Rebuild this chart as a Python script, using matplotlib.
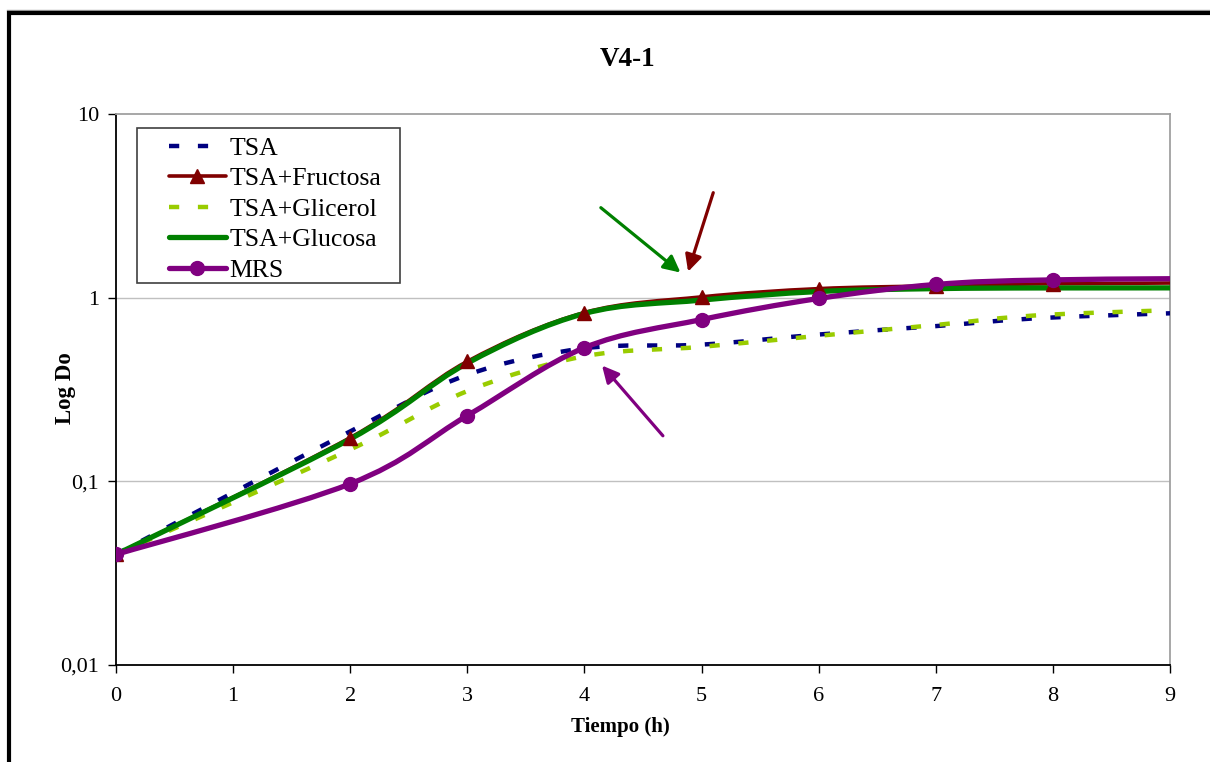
import numpy as np
import matplotlib
matplotlib.use("Agg")
from matplotlib import pyplot as plt
from matplotlib.path import Path
from matplotlib.patches import PathPatch, Rectangle
from matplotlib.lines import Line2D
from matplotlib.ticker import FixedLocator, FixedFormatter, NullLocator

plt.rcParams['font.family'] = ['Liberation Serif', 'DejaVu Serif']

# datos (Tiempo en h, DO)
tiempo = [0, 2, 3, 4, 5, 6, 7, 8, 10]
tsa = [0.040, 0.187, 0.38, 0.53, 0.555, 0.63, 0.70, 0.78, 0.86]
tsa_fructosa = [0.040, 0.173, 0.45, 0.83, 1.01, 1.12, 1.16, 1.19, 1.21]
tsa_glicerol = [0.040, 0.149, 0.31, 0.48, 0.54, 0.62, 0.71, 0.81, 0.89]
tsa_glucosa = [0.040, 0.170, 0.44, 0.82, 0.97, 1.08, 1.12, 1.13, 1.13]
mrs = [0.040, 0.097, 0.228, 0.534, 0.76, 0.99, 1.18, 1.25, 1.28]

# flechas (inicio -> punta)
flechas = [((4.14, 3.09), (4.82, 1.37), "#008000"),
           ((5.10, 3.73), (4.885, 1.385), "#800000"),
           ((4.67, 0.177), (4.15, 0.427), "#800080")]

x_ticks = [0, 1, 2, 3, 4, 5, 6, 7, 8, 9]
y_ticks = [0.01, 0.1, 1, 10]
y_labels = ["0,01", "0,1", "1", "10"]


def linea_suave(x, y):
    # curva suavizada tipo Excel (Bezier en espacio log)
    x = np.asarray(x, float)
    ly = np.log10(y)
    pts = np.column_stack([x, ly])
    n = len(pts)
    verts = [pts[0]]
    codes = [Path.MOVETO]
    for i in range(n - 1):
        p0 = pts[i - 1] if i > 0 else pts[i]
        p1 = pts[i]
        p2 = pts[i + 1]
        p3 = pts[i + 2] if i + 2 < n else pts[i + 1]
        c1 = p1 + (p2 - p0) / 6.0
        c2 = p2 - (p3 - p1) / 6.0
        verts += [c1, c2, p2]
        codes += [Path.CURVE4] * 3
    verts = np.array(verts)
    verts[:, 1] = 10 ** verts[:, 1]
    return Path(verts, codes)


fig = plt.figure(figsize=(12.10, 7.62), dpi=100)
ax = fig.add_axes([116 / 1210, 1 - 665 / 762, (1170 - 116) / 1210, (665 - 114) / 762])

ax.set_yscale("log")
ax.set_xlim(0, 9)
ax.set_ylim(0.01, 10)

series = [
    (tsa, "TSA", "#000080", 3.2, (0, (2.3, 4.2)), None),
    (tsa_fructosa, "TSA+Fructosa", "#800000", 2.6, "-", "^"),
    (tsa_glicerol, "TSA+Glicerol", "#99CC00", 3.2, (0, (2.3, 4.2)), None),
    (tsa_glucosa, "TSA+Glucosa", "#008000", 3.8, "-", None),
    (mrs, "MRS", "#800080", 3.8, "-", "o"),
]

handles = []
for i, (vals, nombre, col, lw, ls, mk) in enumerate(series):
    patch = PathPatch(linea_suave(tiempo, vals), fill=False, edgecolor=col,
                      linewidth=lw, linestyle=ls, zorder=3 + i, capstyle="butt")
    ax.add_patch(patch)
    if mk is not None:
        ax.plot(tiempo, vals, linestyle="none", marker=mk, markersize=10,
                color=col, zorder=10 + i, clip_on=True)
    handles.append(Line2D([], [], color=col, linewidth=lw, linestyle=ls,
                          marker=mk, markersize=10, label=nombre,
                          solid_capstyle="round"))

# cuadricula
for v in [0.1, 1]:
    ax.axhline(v, color="#C0C0C0", linewidth=1.0, zorder=1)

for (x0, y0), (x1, y1), col in flechas:
    ax.annotate("", xy=(x1, y1), xytext=(x0, y0),
                arrowprops=dict(arrowstyle="-|>,head_length=1.0,head_width=0.5",
                                color=col, linewidth=2.3, shrinkA=0, shrinkB=0),
                zorder=20)

ax.xaxis.set_major_locator(FixedLocator(x_ticks))
ax.yaxis.set_major_locator(FixedLocator(y_ticks))
ax.yaxis.set_major_formatter(FixedFormatter(y_labels))
ax.yaxis.set_minor_locator(NullLocator())
ax.tick_params(axis="both", which="major", direction="out", length=6, width=1.0,
               labelsize=16, colors="black")
ax.tick_params(axis="x", pad=10)
ax.tick_params(axis="y", pad=6)

ax.spines["left"].set_color("black")
ax.spines["bottom"].set_color("black")
ax.spines["left"].set_linewidth(1.3)
ax.spines["bottom"].set_linewidth(1.3)
ax.spines["top"].set_color("#A0A0A0")
ax.spines["right"].set_color("#A0A0A0")
ax.spines["top"].set_linewidth(1.3)
ax.spines["right"].set_linewidth(1.3)

# leyenda
caja = Rectangle(((137 - 116) / 1054, (665 - 283) / 551), (400 - 137) / 1054, (283 - 128) / 551,
                 transform=ax.transAxes, facecolor="white", edgecolor="#404040",
                 linewidth=1.2, zorder=30)
ax.add_patch(caja)
leg = ax.legend(handles=handles, loc="upper left",
                bbox_to_anchor=((169 - 116) / 1054, (665 - 137) / 551),
                frameon=False, fontsize=18.5, handlelength=2.2, handletextpad=0.15,
                labelspacing=0.29, borderpad=0, borderaxespad=0)
leg.set_zorder(31)

fig.text(628 / 1210, 1 - 60 / 762, "V4-1", ha="center", va="center",
         fontsize=19.5, fontweight="bold")
fig.text(620 / 1210, 1 - 727 / 762, "Tiempo (h)", ha="center", va="center",
         fontsize=15, fontweight="bold")
fig.text(66 / 1210, 1 - 388 / 762, "Log Do", ha="center", va="center",
         fontsize=16.5, fontweight="bold", rotation=90)

# marco exterior
fig.add_artist(Line2D([7 / 1210, 1], [1 - 9.5 / 762, 1 - 9.5 / 762], color="#A0A0A0",
                      linewidth=1.0, transform=fig.transFigure))
fig.add_artist(Line2D([7 / 1210, 1], [1 - 12.5 / 762, 1 - 12.5 / 762], color="black",
                      linewidth=3.0, transform=fig.transFigure, solid_capstyle="butt"))
fig.add_artist(Line2D([9 / 1210, 9 / 1210], [1 - 11 / 762, 0], color="black",
                      linewidth=3.0, transform=fig.transFigure, solid_capstyle="butt"))

fig.savefig("out.png", dpi=100)
